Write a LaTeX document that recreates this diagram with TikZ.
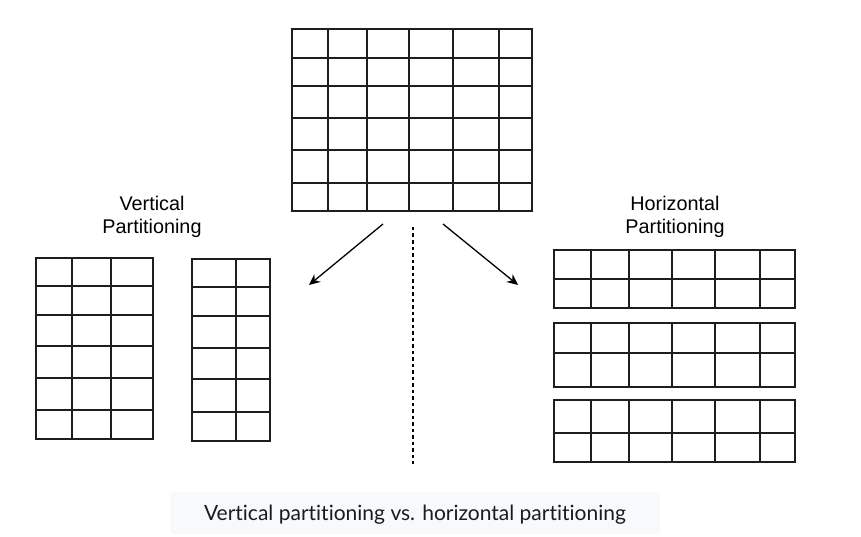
\documentclass[tikz,border=0pt]{standalone}
\usepackage{fontspec}
\usetikzlibrary{arrows.meta}
\setmainfont{Liberation Sans}
\newfontfamily\capfont{Lato}[Ligatures=NoCommon]
\definecolor{capbg}{HTML}{F8F9FA}
\definecolor{gridline}{HTML}{1E1E1E}
\definecolor{captext}{HTML}{1A1A24}
\begin{document}
\begin{tikzpicture}[x=1pt,y=-1pt,
    cell/.style={line width=1.6pt,draw=gridline},
    title/.style={align=center,inner sep=0pt,font=\fontsize{19.8}{23.5}\selectfont},
    split/.style={line width=1.3pt,-{Stealth[length=11pt,width=10pt]}},
    cut/.style={line width=1.3pt,dash pattern=on 3.5pt off 3pt}]
  \useasboundingbox (0,0) rectangle (861,537);
  % whole table
  \draw[cell] (292,29) rectangle (532,211);
  \foreach \x in {328,367,409,453,499} \draw[cell] (\x,29) -- (\x,211);
  \foreach \y in {58,86,118,150,183} \draw[cell] (292,\y) -- (532,\y);
  % vertical split
  \node[title] (vlabel) at (152,217) {Vertical\\Partitioning};
  \draw[cell] (36,258) rectangle (153,439);
  \foreach \x in {72,111} \draw[cell] (\x,258) -- (\x,439);
  \foreach \y in {286,315,346,378,410} \draw[cell] (36,\y) -- (153,\y);
  \draw[cell] (192,259) rectangle (270,441);
  \draw[cell] (236,259) -- (236,441);
  \foreach \y in {287,316,348,379,412} \draw[cell] (192,\y) -- (270,\y);
  % horizontal split
  \node[title] (hlabel) at (675,217) {Horizontal\\Partitioning};
  \foreach \top/\mid/\bot in {250/279/308,323/353/387,400/433/462} {
    \draw[cell] (554,\top) rectangle (795,\bot);
    \draw[cell] (554,\mid) -- (795,\mid);
    \foreach \x in {591,629,672,715,760} \draw[cell] (\x,\top) -- (\x,\bot);
  }
  % arrows and divider
  \coordinate (lfrom) at (383,224);
  \coordinate (lto) at (309,285);
  \coordinate (rfrom) at (443,224);
  \coordinate (rto) at (518,285);
  \draw[split] (lfrom) -- (lto);
  \draw[split] (rfrom) -- (rto);
  \coordinate (dtop) at (413,227);
  \coordinate (dbot) at (413,464);
  \draw[cut] (dtop) -- (dbot);
  % caption
  \fill[capbg,rounded corners=4pt] (170,492) rectangle (660,534);
  \node[font=\capfont\fontsize{21}{24}\selectfont,text=captext,anchor=base] (caption) at (415,520) {Vertical partitioning vs. horizontal partitioning};
\end{tikzpicture}
\end{document}
